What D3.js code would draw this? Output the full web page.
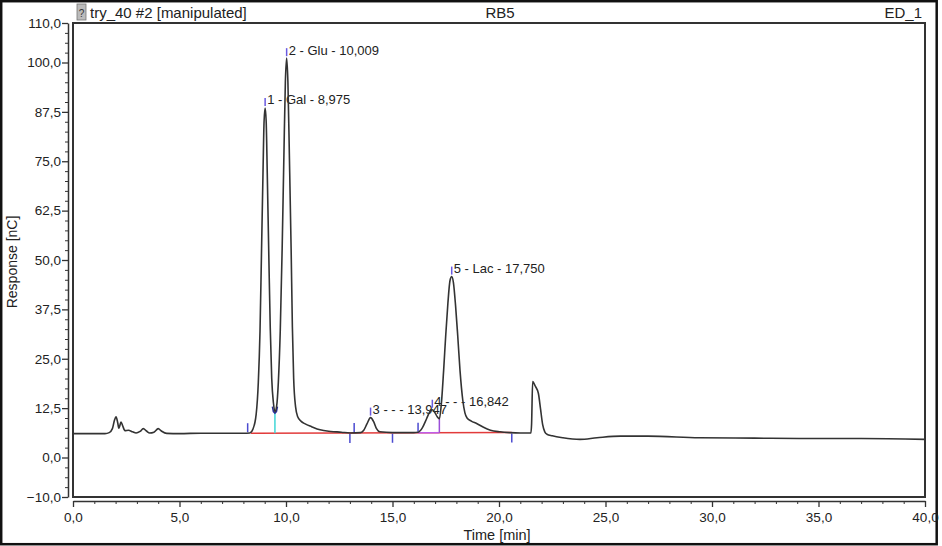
<!DOCTYPE html>
<html>
<head>
<meta charset="utf-8">
<script src="https://cdn.jsdelivr.net/npm/d3@7"></script>
<style>
body { margin: 0; background: #fff; }
svg { display: block; font-family: "Liberation Sans", Arial, sans-serif; }
</style>
</head>
<body>
<div id="chart"></div>
<script>
// chromatogram trace
var traceTime = [0, 1.5, 1.7, 1.85, 1.95, 2.02, 2.1, 2.15, 2.2, 2.25, 2.32, 2.44, 2.6, 2.8, 2.96, 3.15, 3.3, 3.45, 3.6, 3.8, 4.0, 4.15, 4.4, 5.0, 6.0, 7.0, 8.0,
    8.3, 8.45, 8.6, 8.7, 8.78, 8.85, 8.92, 8.97, 9.02, 9.07, 9.12, 9.19, 9.26, 9.33, 9.41, 9.48, 9.56, 9.64, 9.73, 9.82, 9.9, 9.97, 10.03, 10.09, 10.16, 10.24, 10.3, 10.36, 10.45, 10.55, 10.7, 10.9, 11.2, 11.6, 12.1, 12.6, 13.0,
    13.5, 13.65, 13.8, 13.97, 14.12, 14.25, 14.4, 15.0, 16.0,
    16.2, 16.4, 16.6, 16.75, 16.87, 17.0, 17.1, 17.2, 17.3, 17.4, 17.5, 17.6, 17.7, 17.78, 17.86, 17.96, 18.06, 18.17, 18.3, 18.4, 18.5, 18.7, 18.95, 19.25, 19.6, 20.05, 20.5, 21.0,
    21.5, 21.53, 21.58, 21.7, 21.85, 21.95, 22.05, 22.15, 22.25, 22.5, 23.0, 23.8, 24.6, 25.7, 27.0, 29.4, 32.0, 34.1, 37.0, 40.0];
var traceResp = [6.05, 6.05, 6.3, 7.3, 9.5, 10.3, 8.8, 7.4, 8.1, 9.0, 8.2, 6.8, 6.9, 6.5, 6.2, 6.6, 7.3, 6.7, 6.2, 6.4, 7.3, 6.7, 6.1, 6.05, 6.15, 6.15, 6.15,
    6.2, 7.2, 11, 19, 32, 52, 72, 85, 88.5, 85, 72, 52, 33, 20, 13.8, 11.6, 13, 19, 32, 53, 76, 95, 101.1, 95, 76, 53, 33, 20, 12.8, 10.3, 9.2, 8.5, 7.8, 7.0, 6.6, 6.4, 6.2,
    6.3, 6.9, 8.5, 10.1, 9.0, 7.3, 6.5, 6.3, 6.3,
    6.4, 7.5, 9.8, 11.6, 12.1, 11.3, 10.3, 9.8, 14, 22, 31, 39, 44.8, 45.8, 44.3, 38.5, 31, 22, 14.5, 11.3, 10, 9.2, 8.6, 7.7, 6.9, 6.5, 6.3, 6.2,
    6.2, 8.5, 19.2, 18.1, 16.2, 12.3, 8.3, 6.5, 5.9, 5.5, 5.0, 4.6, 5.0, 5.4, 5.4, 5.0, 4.9, 4.8, 4.8, 4.6];

// identified peaks
var peakLabels = ["1 - Gal - 8,975", "2 - Glu - 10,009", "3 - - - 13,947", "4 - - - 16,842", "5 - Lac - 17,750"];
var peakTime = [9.02, 10.03, 13.97, 16.87, 17.78];
var peakResp = [88.5, 101.1, 10.1, 12.1, 45.8];

// integration baseline and delimiters
var baseTime = [8.35, 20.6];
var baseResp = [6.15, 6.35];
var delimUp = [8.2, 13.2, 16.2];
var delimDown = [13.0, 15.0, 20.6];
var valley12 = [9.48, 11.6];
var valley45 = [17.2, 9.8];

var yMajor = [-10, 0, 12.5, 25, 37.5, 50, 62.5, 75, 87.5, 100, 110];
var xMajor = [0, 5, 10, 15, 20, 25, 30, 35, 40];

var W = 942, H = 546;
var fmt = function (v) { return d3.format(".1f")(v).replace(".", ","); };

var svg = d3.select("#chart").append("svg")
    .attr("width", W)
    .attr("height", H);

// outer border
svg.append("rect")
    .attr("x", 1.2).attr("y", 1.2)
    .attr("width", 935.5).attr("height", 543)
    .attr("fill", "#fff")
    .attr("stroke", "#111")
    .attr("stroke-width", 2.5);

var x = d3.scaleLinear().domain([0, 40]).range([73, 925]);
var y = d3.scaleLinear().domain([-10, 110]).range([497, 23]);

// header
svg.append("rect").attr("x", 77).attr("y", 4).attr("width", 9).attr("height", 16)
    .attr("fill", "#bbb").attr("stroke", "#777").attr("stroke-width", 0.8);
svg.append("text").attr("x", 81.5).attr("y", 17).attr("text-anchor", "middle")
    .attr("font-size", 10).attr("fill", "#333").text("?");
svg.append("text").attr("x", 90).attr("y", 18).attr("font-size", 15).attr("fill", "#222")
    .text("try_40 #2 [manipulated]");
svg.append("text").attr("x", 500).attr("y", 18).attr("text-anchor", "middle")
    .attr("font-size", 15).attr("fill", "#222").text("RB5");
svg.append("text").attr("x", 922).attr("y", 18).attr("text-anchor", "end")
    .attr("font-size", 15).attr("fill", "#222").text("ED_1");

// plot frame
svg.append("rect")
    .attr("x", x(0)).attr("y", y(110))
    .attr("width", x(40) - x(0)).attr("height", y(-10) - y(110))
    .attr("fill", "none").attr("stroke", "#333").attr("stroke-width", 2);

// y axis
var yMinor = d3.range(-10, 110.01, 2.5).filter(function (v) { return yMajor.indexOf(v) < 0; });
svg.append("g").attr("transform", "translate(68,0)")
    .call(d3.axisLeft(y).tickValues(yMinor).tickSize(3).tickFormat("").tickSizeOuter(0))
    .call(function (g) { g.select(".domain").attr("stroke", "#333").attr("stroke-width", 1.5); })
    .call(function (g) { g.selectAll(".tick line").attr("stroke", "#333"); });
svg.append("g").attr("transform", "translate(68,0)")
    .call(d3.axisLeft(y).tickValues(yMajor).tickSize(6).tickPadding(1).tickFormat(fmt).tickSizeOuter(0))
    .call(function (g) { g.select(".domain").remove(); })
    .call(function (g) { g.selectAll(".tick line").attr("stroke", "#333").attr("stroke-width", 1.3); })
    .call(function (g) { g.selectAll(".tick text").attr("font-size", 13.5).attr("fill", "#222").attr("font-family", "Liberation Sans, Arial, sans-serif"); });

// x axis
var xMinor = d3.range(0, 40.01, 1).filter(function (v) { return xMajor.indexOf(v) < 0; });
svg.append("g").attr("transform", "translate(0,501)")
    .call(d3.axisBottom(x).tickValues(xMinor).tickSize(3).tickFormat("").tickSizeOuter(0))
    .call(function (g) { g.select(".domain").attr("stroke", "#333").attr("stroke-width", 1.5); })
    .call(function (g) { g.selectAll(".tick line").attr("stroke", "#333"); });
svg.append("g").attr("transform", "translate(0,501)")
    .call(d3.axisBottom(x).tickValues(xMajor).tickSize(6).tickPadding(5).tickFormat(fmt).tickSizeOuter(0))
    .call(function (g) { g.select(".domain").remove(); })
    .call(function (g) { g.selectAll(".tick line").attr("stroke", "#333").attr("stroke-width", 1.3); })
    .call(function (g) { g.selectAll(".tick text").attr("font-size", 13.5).attr("fill", "#222").attr("font-family", "Liberation Sans, Arial, sans-serif"); });

// axis titles
svg.append("text")
    .attr("transform", "translate(17,262) rotate(-90)")
    .attr("text-anchor", "middle").attr("font-size", 14).attr("fill", "#222")
    .text("Response [nC]");
svg.append("text")
    .attr("x", 497).attr("y", 540)
    .attr("text-anchor", "middle").attr("font-size", 14.5).attr("fill", "#222")
    .text("Time [min]");

var plot = svg.append("g");

// integration baseline
plot.append("line")
    .attr("x1", x(baseTime[0])).attr("y1", y(baseResp[0]))
    .attr("x2", x(baseTime[1])).attr("y2", y(baseResp[1]))
    .attr("stroke", "#e23b3b").attr("stroke-width", 1.5);

var baseAt = d3.scaleLinear().domain(baseTime).range(baseResp);

// peak 4 baseline + drop line (purple)
plot.append("line")
    .attr("x1", x(delimUp[2])).attr("y1", y(baseAt(delimUp[2])))
    .attr("x2", x(valley45[0])).attr("y2", y(baseAt(valley45[0])))
    .attr("stroke", "#c05ce8").attr("stroke-width", 1.5);
plot.append("line")
    .attr("x1", x(valley45[0])).attr("y1", y(valley45[1]))
    .attr("x2", x(valley45[0])).attr("y2", y(baseAt(valley45[0])))
    .attr("stroke", "#9b4fd8").attr("stroke-width", 1.5);

// drop line between peaks 1 and 2
plot.append("line")
    .attr("x1", x(valley12[0])).attr("y1", y(valley12[1]))
    .attr("x2", x(valley12[0])).attr("y2", y(baseAt(valley12[0])))
    .attr("stroke", "#3fd6d6").attr("stroke-width", 1.5);
plot.append("path")
    .attr("transform", "translate(" + x(valley12[0]) + "," + y(valley12[1]) + ")")
    .attr("d", "M-2.5,-5 L-1.5,0 L0,1.5 L1.5,0 L2.5,-5")
    .attr("fill", "none").attr("stroke", "#2b2f9a").attr("stroke-width", 1.6);

// delimiter ticks
plot.selectAll(".dup").data(delimUp).enter().append("line")
    .attr("x1", function (d) { return x(d); }).attr("x2", function (d) { return x(d); })
    .attr("y1", function (d) { return y(baseAt(Math.max(d, 8.35))) - 1; })
    .attr("y2", function (d) { return y(baseAt(Math.max(d, 8.35))) - 10; })
    .attr("stroke", "#4b4bd0").attr("stroke-width", 1.5);
plot.selectAll(".ddown").data(delimDown).enter().append("line")
    .attr("x1", function (d) { return x(d); }).attr("x2", function (d) { return x(d); })
    .attr("y1", function (d) { return y(baseAt(d)) + 1; })
    .attr("y2", function (d) { return y(baseAt(d)) + 10; })
    .attr("stroke", "#4b4bd0").attr("stroke-width", 1.5);

// peak labels
plot.selectAll(".plab").data(peakLabels).enter().append("text")
    .attr("x", function (d, i) { return x(peakTime[i]) + 2; })
    .attr("y", function (d, i) { return y(peakResp[i]) - 8; })
    .attr("dy", "0.35em")
    .attr("font-size", 13).attr("fill", "#222")
    .text(function (d) { return d; });

// trace
var pts = traceTime.map(function (t, i) { return [t, traceResp[i]]; });
plot.append("path")
    .datum(pts)
    .attr("fill", "none")
    .attr("stroke", "#333")
    .attr("stroke-width", 1.6)
    .attr("stroke-linejoin", "round")
    .attr("d", d3.line()
        .x(function (d) { return x(d[0]); })
        .y(function (d) { return y(d[1]); })
        .curve(d3.curveMonotoneX));

// apex markers
plot.selectAll(".apex").data(peakTime).enter().append("line")
    .attr("x1", function (d) { return x(d); }).attr("x2", function (d) { return x(d); })
    .attr("y1", function (d, i) { return y(peakResp[i]) - 2; })
    .attr("y2", function (d, i) { return y(peakResp[i]) - 10; })
    .attr("stroke", "#6a5ae0").attr("stroke-width", 1.5);
</script>
</body>
</html>
